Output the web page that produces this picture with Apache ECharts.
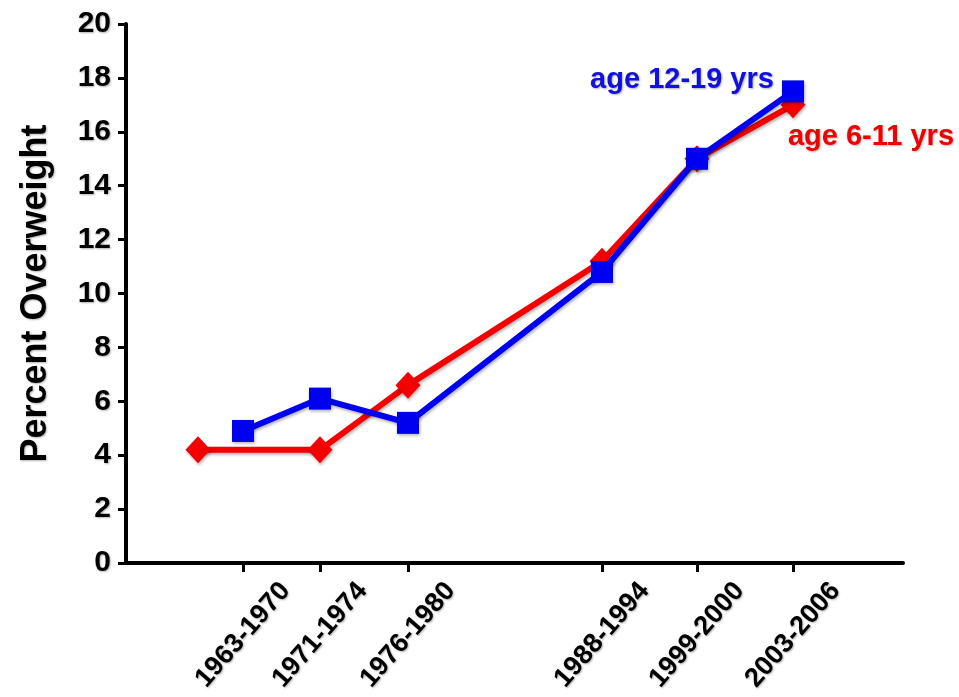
<!DOCTYPE html>
<html>
<head>
<meta charset="utf-8">
<script src="https://cdn.jsdelivr.net/npm/echarts@6/dist/echarts.min.js"></script>
<style>
html,body{margin:0;padding:0;background:#fff;}
#chart{width:959px;height:697px;}
</style>
</head>
<body>
<div id="chart"></div>
<script>
// Survey periods and their place along the (hand-spaced) x axis, in axis units
var periods = ["1963-1970", "1971-1974", "1976-1980", "1988-1994", "1999-2000", "2003-2006"];
var periodPos = [117, 194, 282, 476, 571, 667];
// age 6-11 first survey (1963-1965) sits left of the first tick
var childPos = [72, 194, 282, 476, 571, 667];
var childValues = [4.2, 4.2, 6.6, 11.2, 15.0, 17.0];      // age 6-11 yrs (red)
var teenPos = [117, 194, 282, 476, 571, 667];
var teenValues = [4.9, 6.1, 5.2, 10.8, 15.0, 17.5];        // age 12-19 yrs (blue)
var yTicks = [0, 2, 4, 6, 8, 10, 12, 14, 16, 18, 20];

var FONT = '"Liberation Sans", Arial, sans-serif';
var SHADOW = { textShadowColor: 'rgba(0,0,0,0.3)', textShadowBlur: 2, textShadowOffsetX: 1, textShadowOffsetY: 1 };

function pairs(xs, ys) { return xs.map(function (x, i) { return [x, ys[i]]; }); }
function withShadow(o) { for (var k in SHADOW) o[k] = SHADOW[k]; return o; }

var teenData = pairs(teenPos, teenValues);
teenData[teenData.length - 1] = {
  value: teenData[teenData.length - 1],
  label: withShadow({
    show: true, formatter: 'age 12-19 yrs', position: 'inside', offset: [-111, -11],
    color: '#1010e0', fontFamily: FONT, fontWeight: 'bold', fontSize: 29
  })
};
var childData = pairs(childPos, childValues);
childData[childData.length - 1] = {
  value: childData[childData.length - 1],
  label: withShadow({
    show: true, formatter: 'age 6-11 yrs', position: 'inside', offset: [78, 32],
    color: '#f00000', fontFamily: FONT, fontWeight: 'bold', fontSize: 29
  })
};

var chart = echarts.init(document.getElementById('chart'), null, { renderer: 'canvas' });
chart.setOption({
  animation: false,
  backgroundColor: '#ffffff',
  grid: { left: 126, right: 56, top: 24, bottom: 134, containLabel: false },
  xAxis: {
    type: 'value', min: 0, max: 777,
    splitLine: { show: false },
    axisLine: { show: true, onZero: false, lineStyle: { color: '#000', width: 4 } },
    axisTick: { show: true, customValues: periodPos, length: 9, inside: false, lineStyle: { color: '#000', width: 3 } },
    axisLabel: withShadow({
      show: true, customValues: periodPos, rotate: 49, margin: 72,
      align: 'center', verticalAlign: 'middle',
      fontFamily: FONT, fontWeight: 'bold', fontSize: 27, color: '#000',
      formatter: function (v) { var i = periodPos.indexOf(v); return i >= 0 ? periods[i] : ''; }
    })
  },
  yAxis: {
    type: 'value', min: 0, max: 20, interval: 2,
    name: 'Percent Overweight', nameLocation: 'middle', nameRotate: 90, nameGap: 72,
    nameTextStyle: withShadow({ fontFamily: FONT, fontWeight: 'bold', fontSize: 36, color: '#000' }),
    splitLine: { show: false },
    axisLine: { show: true, lineStyle: { color: '#000', width: 4 } },
    axisTick: { show: true, length: 8, lineStyle: { color: '#000', width: 3 } },
    axisLabel: withShadow({
      margin: 15, fontFamily: FONT, fontWeight: 'bold', fontSize: 30, color: '#000',
      formatter: function (v) { return yTicks.indexOf(v) >= 0 ? String(v) : ''; }
    })
  },
  series: [
    {
      name: 'age 6-11 yrs', type: 'line', data: childData,
      symbol: 'diamond', symbolSize: [25, 27],
      lineStyle: { color: '#f40000', width: 6, shadowColor: 'rgba(0,0,0,0.3)', shadowBlur: 3, shadowOffsetX: 1, shadowOffsetY: 2 },
      itemStyle: { color: '#f40000', shadowColor: 'rgba(0,0,0,0.3)', shadowBlur: 3, shadowOffsetX: 1, shadowOffsetY: 2 },
      z: 2
    },
    {
      name: 'age 12-19 yrs', type: 'line', data: teenData,
      symbol: 'rect', symbolSize: 22,
      lineStyle: { color: '#0000f0', width: 6, shadowColor: 'rgba(0,0,0,0.3)', shadowBlur: 3, shadowOffsetX: 1, shadowOffsetY: 2 },
      itemStyle: { color: '#0000f0', shadowColor: 'rgba(0,0,0,0.3)', shadowBlur: 3, shadowOffsetX: 1, shadowOffsetY: 2 },
      z: 3
    }
  ]
});
</script>
</body>
</html>
